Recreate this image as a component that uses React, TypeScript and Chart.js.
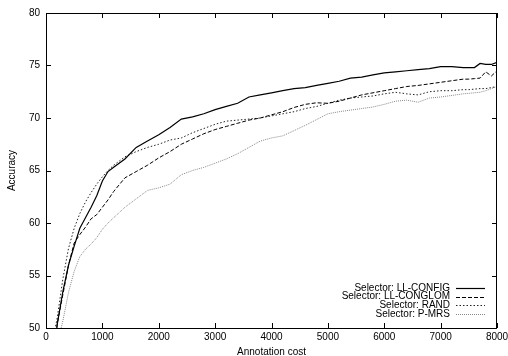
import React, { useEffect, useRef } from "react";
import { Chart, registerables } from "chart.js";

Chart.register(...registerables);

const costs = [100, 200, 300, 400, 500, 600, 700, 800, 900, 1000, 1100, 1200, 1400, 1600, 1800, 2000, 2200, 2400, 2600, 2800, 3000, 3200, 3400, 3600, 3800, 4000, 4200, 4400, 4600, 4800, 5000, 5200, 5400, 5600, 5800, 6000, 6200, 6400, 6600, 6800, 7000, 7200, 7400, 7500, 7600, 7700, 7800, 7900, 8000];

const llConfig = [45.5, 50.4, 53.5, 56.0, 57.8, 59.5, 60.5, 61.5, 62.6, 64.0, 64.9, 65.3, 66.1, 67.2, 67.8, 68.4, 69.1, 69.9, 70.1, 70.4, 70.8, 71.1, 71.4, 72.0, 72.2, 72.4, 72.6, 72.8, 72.9, 73.1, 73.3, 73.5, 73.8, 73.9, 74.1, 74.3, 74.4, 74.5, 74.6, 74.7, 74.9, 74.9, 74.8, 74.8, 74.8, 75.2, 75.1, 75.1, 75.3];

const llConglom = [45.5, 50.4, 53.2, 56.0, 58.1, 58.9, 59.6, 60.4, 60.8, 61.5, 62.2, 63.0, 64.3, 64.9, 65.5, 66.2, 66.8, 67.5, 68.0, 68.5, 68.9, 69.2, 69.5, 69.8, 70.0, 70.3, 70.6, 71.0, 71.3, 71.45, 71.4, 71.6, 71.9, 72.2, 72.4, 72.6, 72.8, 73.0, 73.1, 73.25, 73.4, 73.55, 73.7, 73.7, 73.75, 73.8, 74.4, 74.0, 74.5];

const rand = [48.2, 51.0, 54.7, 57.6, 59.5, 60.9, 62.0, 62.9, 63.7, 64.4, 65.0, 65.5, 66.3, 66.8, 67.2, 67.5, 67.9, 68.1, 68.6, 69.0, 69.4, 69.7, 69.8, 69.9, 70.0, 70.2, 70.4, 70.6, 70.9, 71.1, 71.4, 71.7, 71.9, 72.0, 72.1, 72.3, 72.45, 72.3, 72.2, 72.5, 72.6, 72.6, 72.7, 72.7, 72.75, 72.8, 72.8, 72.9, 73.0];

const pMrs = [44.0, 48.5, 50.7, 53.4, 55.4, 56.8, 57.5, 58.0, 58.6, 59.4, 60.0, 60.5, 61.5, 62.3, 63.1, 63.35, 63.7, 64.6, 65.0, 65.3, 65.7, 66.1, 66.6, 67.2, 67.8, 68.1, 68.3, 68.8, 69.3, 69.85, 70.4, 70.6, 70.75, 70.9, 71.05, 71.3, 71.6, 71.7, 71.5, 71.9, 72.0, 72.15, 72.3, 72.35, 72.4, 72.45, 72.6, 72.8, 73.0];

const seriesLabels = ["Selector: LL-CONFIG", "Selector: LL-CONGLOM", "Selector: RAND", "Selector: P-MRS"];
const xTitle = "Annotation cost";
const yTitle = "Accuracy";

const FONT = "'Liberation Sans', Arial, Helvetica, sans-serif";

const framePlugin = {
  id: "frameTicks",
  afterDraw(chart: any) {
    const { ctx, chartArea: a, scales } = chart;
    ctx.save();
    ctx.strokeStyle = "#000";
    ctx.lineWidth = 1;
    ctx.setLineDash([]);
    const L = 5;
    ctx.beginPath();
    scales.x.ticks.forEach((t: any) => {
      const px = Math.round(scales.x.getPixelForValue(t.value)) + 0.5;
      ctx.moveTo(px, a.bottom);
      ctx.lineTo(px, a.bottom - L);
      ctx.moveTo(px, a.top);
      ctx.lineTo(px, a.top + L);
    });
    scales.y.ticks.forEach((t: any) => {
      const py = Math.round(scales.y.getPixelForValue(t.value)) + 0.5;
      ctx.moveTo(a.left, py);
      ctx.lineTo(a.left + L, py);
      ctx.moveTo(a.right, py);
      ctx.lineTo(a.right - L, py);
    });
    ctx.stroke();
    ctx.strokeRect(Math.round(a.left) + 0.5, Math.round(a.top) + 0.5, Math.round(a.right - a.left) - 1, Math.round(a.bottom - a.top));

    // legend inside plot, bottom right
    const datasets = chart.data.datasets;
    const textRight = a.right - 47;
    const lineStart = a.right - 41;
    const lineEnd = a.right - 12;
    const rowTop = a.bottom - 40;
    const pitch = 8.6;
    ctx.font = `10px ${FONT}`;
    ctx.textAlign = "right";
    ctx.textBaseline = "middle";
    datasets.forEach((ds: any, i: number) => {
      const y = rowTop + i * pitch;
      ctx.fillStyle = "#000";
      ctx.fillText(ds.label, textRight, y);
      ctx.beginPath();
      ctx.strokeStyle = ds.borderColor;
      ctx.lineWidth = ds.borderWidth;
      ctx.setLineDash(ds.borderDash || []);
      ctx.moveTo(lineStart, Math.round(y) + 0.5);
      ctx.lineTo(lineEnd, Math.round(y) + 0.5);
      ctx.stroke();
    });
    ctx.restore();
  },
};

export default function App() {
  const ref = useRef<HTMLCanvasElement | null>(null);

  useEffect(() => {
    if (!ref.current) return;
    const mk = (data: number[]) => costs.map((c, i) => ({ x: c, y: data[i] }));
    const chart = new Chart(ref.current, {
      type: "line",
      data: {
        datasets: [
          { label: seriesLabels[0], data: mk(llConfig), borderColor: "#000", borderWidth: 1.2, borderDash: [], pointRadius: 0, tension: 0 },
          { label: seriesLabels[1], data: mk(llConglom), borderColor: "#000", borderWidth: 1, borderDash: [4, 2], pointRadius: 0, tension: 0 },
          { label: seriesLabels[2], data: mk(rand), borderColor: "#222", borderWidth: 1, borderDash: [1.5, 2], pointRadius: 0, tension: 0 },
          { label: seriesLabels[3], data: mk(pMrs), borderColor: "#888", borderWidth: 1, borderDash: [1, 1], pointRadius: 0, tension: 0 },
        ],
      },
      options: {
        animation: false,
        responsive: false,
        maintainAspectRatio: false,
        layout: { padding: { top: 13, right: 11, left: 0, bottom: 0 } },
        plugins: { legend: { display: false }, tooltip: { enabled: false } },
        scales: {
          x: {
            type: "linear",
            min: 0,
            max: 8000,
            grid: { display: false, drawTicks: false },
            border: { display: false },
            ticks: { stepSize: 1000, padding: 3, color: "#000", font: { family: FONT, size: 10 }, maxRotation: 0, callback: (v: any) => String(v) },
            title: { display: true, text: xTitle, color: "#000", font: { family: FONT, size: 10 }, padding: { top: 0, bottom: -2 } },
            afterFit(s: any) {
              s.height = 28;
              s.paddingLeft = 0;
              s.paddingRight = 0;
            },
          },
          y: {
            type: "linear",
            min: 50,
            max: 80,
            grid: { display: false, drawTicks: false },
            border: { display: false },
            ticks: { stepSize: 5, padding: 6, color: "#000", font: { family: FONT, size: 10 }, callback: (v: any) => String(v) },
            title: { display: true, text: yTitle, color: "#000", font: { family: FONT, size: 10 }, padding: { top: 6, bottom: 0 } },
            afterFit(s: any) {
              s.width = 46;
              s.paddingTop = 0;
              s.paddingBottom = 0;
            },
          },
        },
      },
      plugins: [framePlugin],
    });
    return () => chart.destroy();
  }, []);

  return (
    <div style={{ position: "fixed", left: 0, top: 0, width: 508, height: 356, background: "#fff" }}>
      <canvas ref={ref} width={508} height={356} style={{ display: "block" }} />
    </div>
  );
}
